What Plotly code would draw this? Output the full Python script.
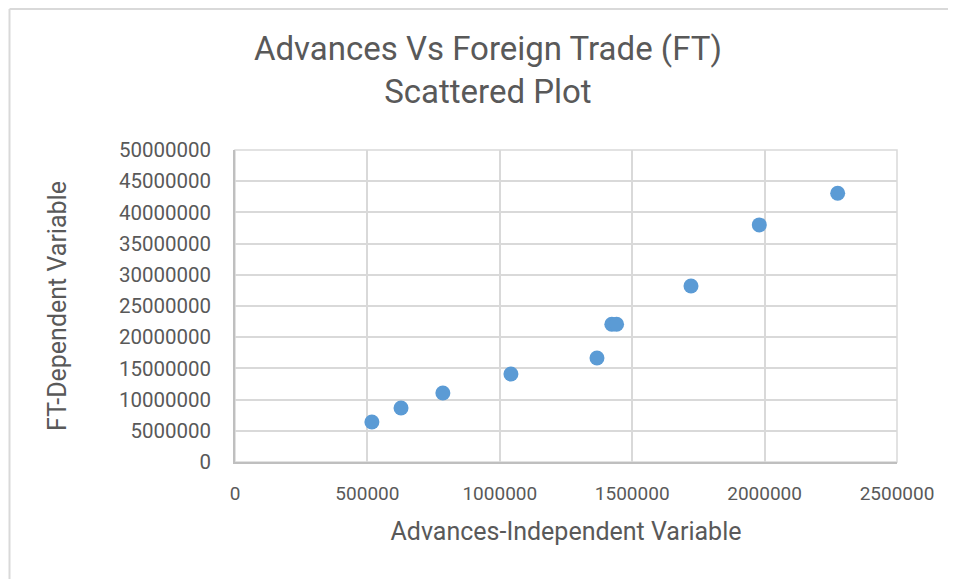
import plotly.graph_objects as go

advances = [517000, 627000, 785000, 1042000, 1367000, 1423000, 1441000, 1722000, 1980000, 2276000]
foreign_trade = [6410000, 8650000, 11060000, 14100000, 16670000, 22070000, 22070000, 28200000, 38000000, 43060000]

x_ticks = [0, 500000, 1000000, 1500000, 2000000, 2500000]
y_ticks = [0, 5000000, 10000000, 15000000, 20000000, 25000000, 30000000, 35000000, 40000000, 45000000, 50000000]

title_text = "Advances Vs Foreign Trade (FT)<br>Scattered Plot"
x_title = "Advances-Independent Variable"
y_title = "FT-Dependent Variable"

font_main = "Roboto, sans-serif"
grey = "#595959"

W, H = 956, 579
L, R, T, B = 227, 67, 142, 125
PW, PH = W - L - R, H - T - B

fig = go.Figure()
fig.add_trace(go.Scatter(
    x=advances, y=foreign_trade, mode="markers",
    marker=dict(color="#5B9BD5", size=15, line=dict(width=0)),
    showlegend=False,
))

fig.update_layout(
    width=W, height=H,
    margin=dict(l=L, r=R, t=T, b=B),
    paper_bgcolor="white", plot_bgcolor="white",
    title=dict(text=title_text, x=0.502, xanchor="center", y=0.91, yanchor="middle",
               font=dict(family=font_main, size=33, color=grey)),
    font=dict(family=font_main, color=grey),
)
fig.update_xaxes(
    range=[0, 2500000], tickvals=x_ticks, ticktext=[str(v) for v in x_ticks],
    showgrid=True, gridcolor="#D9D9D9", gridwidth=1.5,
    showline=True, linecolor="#BFBFBF", linewidth=1.5, mirror=False,
    zeroline=False, ticks="", ticklabelstandoff=13,
    tickfont=dict(family=font_main, size=19, color=grey),
    title=dict(text=x_title, font=dict(family=font_main, size=25, color=grey), standoff=19),
)
fig.update_yaxes(
    range=[0, 50000000], tickvals=y_ticks, ticktext=[str(v) for v in y_ticks],
    showgrid=True, gridcolor="#D9D9D9", gridwidth=1.5,
    showline=True, linecolor="#BFBFBF", linewidth=1.5,
    zeroline=False, ticks="", ticklabelstandoff=18,
    tickfont=dict(family=font_main, size=20.5, color=grey),
    title=dict(text=y_title, font=dict(family=font_main, size=25, color=grey), standoff=45),
)
# right and top plot frame in grid colour
fig.add_shape(type="rect", xref="paper", yref="paper", x0=0, y0=0, x1=1, y1=1,
              line=dict(color="#D9D9D9", width=1.5), layer="below")
# chart area border (top and left edges only visible)
top_y = 1 + (T - 1) / PH
left_x = (1.5 - L) / PW
fig.add_shape(type="line", xref="paper", yref="paper", x0=left_x, x1=(W - L) / PW, y0=top_y, y1=top_y,
              line=dict(color="#D9D9D9", width=2))
fig.add_shape(type="line", xref="paper", yref="paper", x0=left_x, x1=left_x, y0=top_y, y1=-B / PH,
              line=dict(color="#D9D9D9", width=2))

fig.write_html("out.html")
